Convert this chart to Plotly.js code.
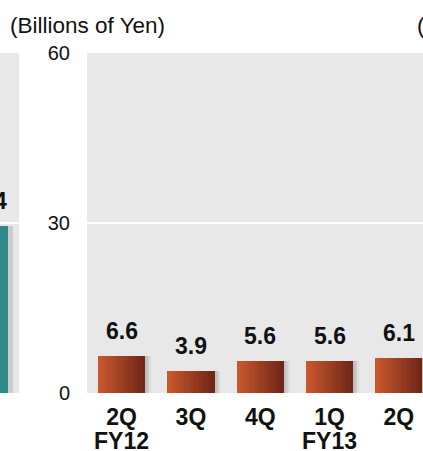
<!DOCTYPE html>
<html>
<head>
<meta charset="utf-8">
<script src="https://cdn.plot.ly/plotly-3.0.1.min.js"></script>
<style>html,body{margin:0;padding:0;overflow:hidden;background:#fff;}</style>
</head>
<body>
<div id="chart" style="width:423px;height:451px;"></div>
<script>
// ---- data ----
const quarters = ["2Q", "3Q", "4Q", "1Q", "2Q"];
const fiscalYears = ["FY12", "", "", "FY13", ""];
const values = [6.6, 3.9, 5.6, 5.6, 6.1];
const labels = ["6.6", "3.9", "5.6", "5.6", "6.1"];
const prevValues = [29.4];
const prevLabels = ["29.4"];
const yTicks = [0, 30, 60];
const unitTitle = "(Billions of Yen)";

// ---- styling ----
const W = 423, H = 451;
const FONT = "Arial, 'Liberation Sans', sans-serif";
const barW = 0.68;
const N = 14;
const c0 = [200, 88, 44], c1 = [112, 38, 24];
const idx = values.map((_, i) => i);

const traces = [];
// soft shadow
[[0.085, 0.05], [0.06, 0.06], [0.035, 0.07]].forEach(([off, a]) => {
  traces.push({type: 'bar', x: idx, y: values, width: barW, offset: -barW/2 + off,
    marker: {color: `rgba(0,0,0,${a})`, line: {width: 0}}, hoverinfo: 'skip', showlegend: false});
});
// gradient slices
for (let i = 0; i < N; i++) {
  const t = i / (N - 1);
  const c = c0.map((v, k) => Math.round(v + (c1[k] - v) * t));
  const sw = barW / N;
  traces.push({type: 'bar', x: idx, y: values,
    width: i < N - 1 ? sw + 0.006 : sw, offset: -barW/2 + i * sw,
    marker: {color: `rgb(${c[0]},${c[1]},${c[2]})`, line: {width: 0}},
    hoverinfo: 'skip', showlegend: false});
}
// left (previous) panel teal bar
traces.push({type: 'bar', x: [0], y: prevValues, width: barW, offset: -barW/2 + 0.07,
  xaxis: 'x2', yaxis: 'y', marker: {color: 'rgba(0,0,0,0.12)', line: {width: 0}},
  hoverinfo: 'skip', showlegend: false, cliponaxis: true});
traces.push({type: 'bar', x: [0], y: prevValues, width: barW, offset: -barW/2,
  xaxis: 'x2', yaxis: 'y', marker: {color: '#2f8a89', line: {width: 0}},
  hoverinfo: 'skip', showlegend: false, cliponaxis: true});

const plotL = 87;
const pxPerCat = 69.3;
const rightEdgeCat = -0.5 + (W - plotL) / pxPerCat;

const annotations = values.map((v, i) => ({
  x: i, y: v, xref: 'x', yref: 'y', text: '<b>' + labels[i] + '</b>',
  showarrow: false, xanchor: 'center', yanchor: 'bottom', yshift: 10,
  font: {family: FONT, size: 23, color: '#111'}
}));
// fiscal year second-line labels
fiscalYears.forEach((fy, i) => {
  if (!fy) return;
  annotations.push({x: i, y: 0, xref: 'x', yref: 'paper', text: '<b>' + fy + '</b>',
    showarrow: false, xanchor: 'center', yanchor: 'middle', yshift: -48,
    font: {family: FONT, size: 23, color: '#111'}});
});
// previous panel label (partially off-page)
const prevCenterPx = 8 - barW/2 * pxPerCat;
annotations.push({x: prevCenterPx / W, y: prevValues[0], xref: 'paper', yref: 'y',
  text: '<b>' + prevLabels[0] + '</b>', showarrow: false, xanchor: 'center', yanchor: 'bottom',
  yshift: 10, font: {family: FONT, size: 23, color: '#111'}});
// next panel title (partially off-page)
annotations.push({x: 415 / W, y: 1 + 28 / 340, xref: 'paper', yref: 'paper', text: unitTitle,
  showarrow: false, xanchor: 'left', yanchor: 'middle', font: {family: FONT, size: 22.5, color: '#111'}});

const layout = {
  width: W, height: H,
  margin: {l: 0, r: 0, t: 53, b: 58, pad: 0},
  paper_bgcolor: '#ffffff', plot_bgcolor: '#e8e8e8',
  barmode: 'overlay', bargap: 0,
  showlegend: false,
  title: {text: unitTitle, xref: 'container', yref: 'container', x: 10 / W, xanchor: 'left',
    y: 1 - 25 / H, yanchor: 'middle', font: {family: FONT, size: 22.5, color: '#111'}},
  xaxis: {domain: [plotL / W, 1], range: [-0.5, rightEdgeCat], tickvals: idx, ticktext: quarters,
    showgrid: false, zeroline: false, showline: false, ticks: '', ticklabelstandoff: 8,
    tickfont: {family: FONT, size: 23, color: '#111', weight: 'bold'}, fixedrange: true},
  xaxis2: {domain: [0, 19 / W], range: [0.5 - 19 / pxPerCat, 0.5], anchor: 'y',
    showticklabels: false, showgrid: false, zeroline: false, showline: false, ticks: ''},
  yaxis: {range: [0, 60], tickvals: yTicks, showgrid: true, gridcolor: '#ffffff', gridwidth: 2,
    zeroline: false, showline: false, ticks: '', ticklabelstandoff: 16,
    tickfont: {family: FONT, size: 20, color: '#111'}, fixedrange: true},
  annotations: annotations
};

Plotly.newPlot('chart', traces, layout, {displayModeBar: false, staticPlot: true});
</script>
</body>
</html>
